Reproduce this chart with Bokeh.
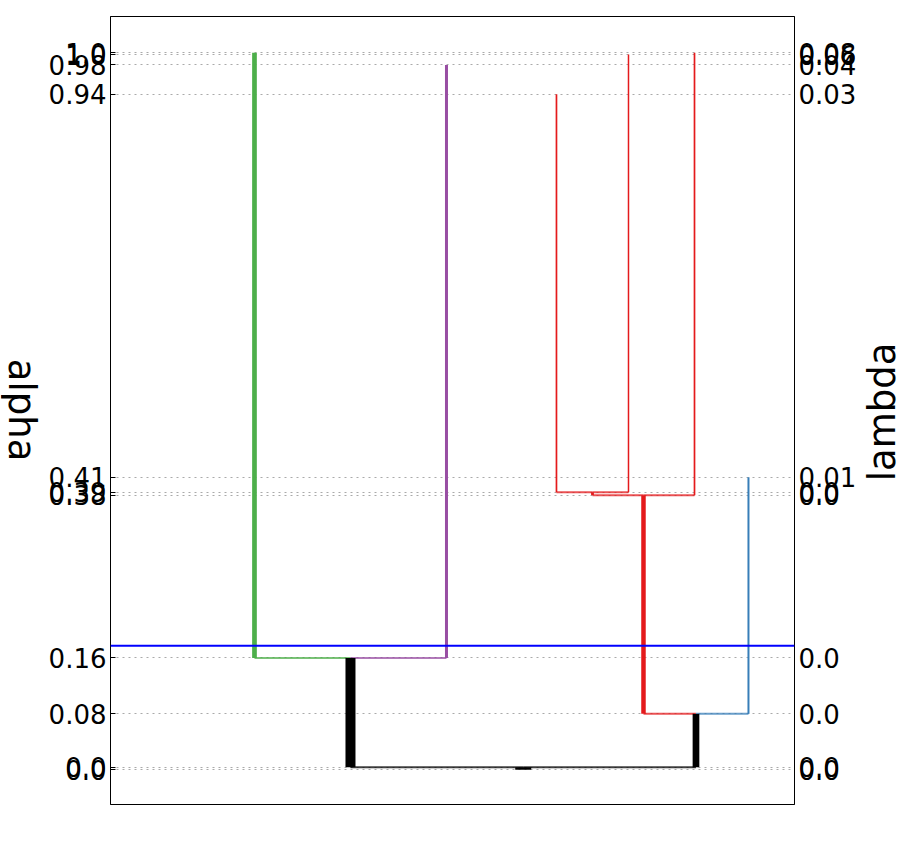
import math
from bokeh.plotting import figure
from bokeh.layouts import row
from bokeh.models import Range1d, LinearAxis, FixedTicker, Span
from bokeh.core.properties import value
from bokeh.embed import file_html
from bokeh.resources import INLINE

# ---- data ----
leaf_names = ["g", "p", "r1", "r2", "r3", "b"]
leaf_x = [0.2105, 0.4912, 0.652, 0.7573, 0.8538, 0.9327]
leaf_alpha = [1.0, 0.983, 0.942, 0.9976, 1.0, 0.408]
leaf_weight = [4.7, 3.0, 1.7, 1.5, 1.7, 2.0]
leaf_color = ["#4daf4a", "#984ea3", "#e41a1c", "#e41a1c", "#e41a1c", "#377eb8"]

node_names = ["s1", "s2", "s3", "s4", "root"]
node_children = [("r1", "r2"), ("s1", "r3"), ("s2", "b"), ("g", "p"), ("s4", "s3")]
node_alpha = [0.387, 0.383, 0.078, 0.156, 0.0036]
node_weight = [2.8, 4.5, 6.7, 10.0, 16.0]
node_color = ["#e41a1c", "#e41a1c", "black", "black", "black"]
root_base = 0.0

cut_alpha = 0.1729

tick_alpha = [0.0, 0.0036, 0.078, 0.156, 0.383, 0.387, 0.408, 0.942, 0.983, 0.9976, 1.0]
alpha_labels = ["0.0", "0.0", "0.08", "0.16", "0.38", "0.39", "0.41", "0.94", "0.98", "1.0", "1.0"]
lambda_labels = ["0.0", "0.0", "0.0", "0.0", "0.0", "0.0", "0.01", "0.03", "0.04", "0.06", "0.08"]

left_title = "alpha"
right_title = "lambda"

# ---- build tree geometry ----
info = {}
for n, x, a, w, c in zip(leaf_names, leaf_x, leaf_alpha, leaf_weight, leaf_color):
    info[n] = dict(x=x, h=a, w=w, c=c)
for n, ch, a, w, c in zip(node_names, node_children, node_alpha, node_weight, node_color):
    info[n] = dict(x=(info[ch[0]]["x"] + info[ch[1]]["x"]) / 2, h=a, w=w, c=c, ch=ch)

parent_h = {"root": root_base}
for n, ch in zip(node_names, node_children):
    for c in ch:
        parent_h[c] = info[n]["h"]

vx, vy0, vy1, vw, vc = [], [], [], [], []
for n, d in info.items():
    vx.append(d["x"]); vy0.append(parent_h[n]); vy1.append(d["h"]); vw.append(d["w"]); vc.append(d["c"])

hx0, hx1, hy, hc = [], [], [], []
for n in node_names:
    d = info[n]
    for c in d["ch"]:
        hx0.append(info[c]["x"]); hx1.append(d["x"]); hy.append(d["h"]); hc.append(info[c]["c"])

# ---- layout sizes ----
H = 839
SIDE = 45
MAIN_W = 814

# ---- main figure ----
p = figure(width=MAIN_W, height=H, output_backend="svg", toolbar_location=None,
           x_range=Range1d(0, 1), y_range=Range1d(-0.0484, 1.0506),
           x_axis_location=None, y_axis_location=None,
           min_border_left=65, min_border_right=65, min_border_top=16, min_border_bottom=35)
p.outline_line_color = "black"
p.outline_line_width = 1
p.outline_line_alpha = 1
p.background_fill_color = "white"
p.border_fill_color = "white"

ticker = FixedTicker(ticks=tick_alpha)
lax = LinearAxis(ticker=ticker)
lax.major_label_overrides = {t: l for t, l in zip(tick_alpha, alpha_labels)}
rax = LinearAxis(ticker=FixedTicker(ticks=tick_alpha))
rax.major_label_overrides = {t: l for t, l in zip(tick_alpha, lambda_labels)}
for ax in (lax, rax):
    ax.major_label_text_font = "DejaVu Sans"
    ax.major_label_text_font_size = "26px"
    ax.major_label_text_color = "black"
    ax.minor_tick_line_color = None
    ax.axis_line_color = "black"
    ax.major_tick_out = 0
lax.major_tick_in = 5
lax.major_tick_line_color = "black"
lax.major_label_standoff = 4
rax.major_tick_in = 0
rax.major_tick_line_color = None
rax.major_label_standoff = 4
p.add_layout(lax, "left")
p.add_layout(rax, "right")

p.xgrid.visible = False
p.ygrid.ticker = ticker
p.ygrid.grid_line_color = "#aaaaaa"
p.ygrid.grid_line_dash = "2 4"
p.ygrid.grid_line_width = 1

p.segment(x0=hx0, y0=hy, x1=hx1, y1=hy, line_color=hc, line_width=2, line_alpha=0.75)
p.segment(x0=vx, y0=vy0, x1=vx, y1=vy1, line_color=vc, line_width=vw)

p.add_layout(Span(location=cut_alpha, dimension="width", line_color="#0000ff", line_width=2))


# ---- side panels holding the rotated axis titles ----
def side_panel(text, angle, cx, cy):
    s = figure(width=SIDE, height=H, output_backend="svg", toolbar_location=None,
               x_range=Range1d(0, SIDE), y_range=Range1d(0, H),
               x_axis_location=None, y_axis_location=None, min_border=0)
    s.outline_line_color = None
    s.xgrid.visible = False
    s.ygrid.visible = False
    s.background_fill_color = "white"
    s.border_fill_color = "white"
    s.text(x=[cx], y=[H - cy], text=[text], angle=angle, text_align="center",
           text_baseline="middle", text_font=value("DejaVu Sans"),
           text_font_size="37px", text_color="black")
    return s


left_panel = side_panel(left_title, -math.pi / 2, 21, 419)
right_panel = side_panel(right_title, math.pi / 2, 23, 421)

layout = row(left_panel, p, right_panel, spacing=0)

open("out.html", "w").write(file_html(layout, INLINE))
